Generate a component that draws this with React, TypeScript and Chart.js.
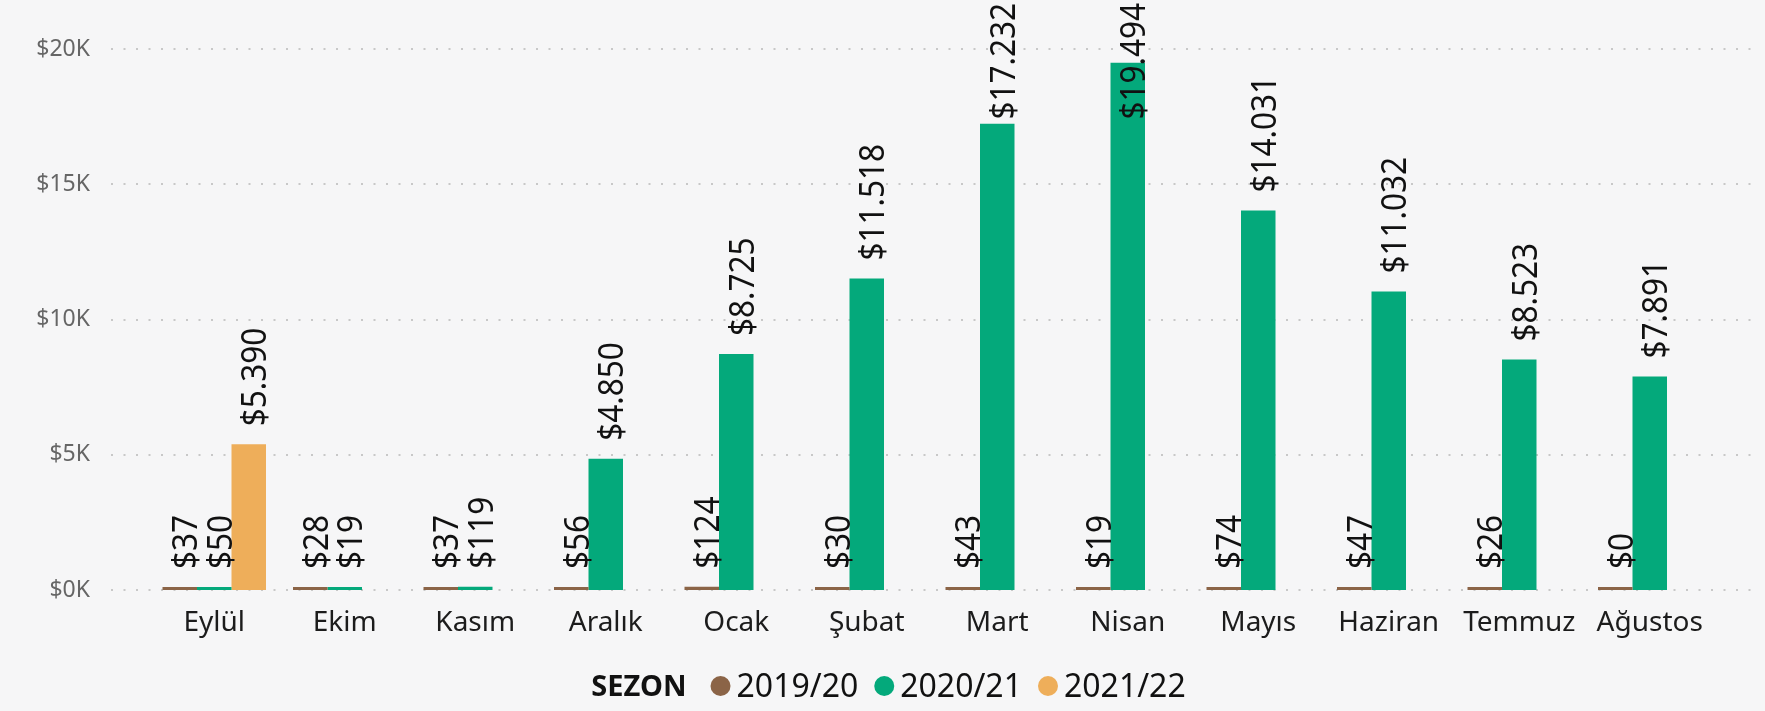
import React, { useEffect, useRef } from "react";
import { Chart, registerables } from "chart.js";

Chart.register(...registerables);

const months = ["Eylül", "Ekim", "Kasım", "Aralık", "Ocak", "Şubat", "Mart", "Nisan", "Mayıs", "Haziran", "Temmuz", "Ağustos"];
const season1920 = [37, 28, 37, 56, 124, 30, 43, 19, 74, 47, 26, 0];
const season2021 = [50, 19, 119, 4850, 8725, 11518, 17232, 19494, 14031, 11032, 8523, 7891];
const season2122 = [5390, null, null, null, null, null, null, null, null, null, null, null];
const seasonNames = ["2019/20", "2020/21", "2021/22"];
const seasonColors = ["#8B6447", "#04A97B", "#EEAE5A"];
const yTickValues = [0, 5000, 10000, 15000, 20000];
const yTickLabels = ["$0K", "$5K", "$10K", "$15K", "$20K"];
const legendTitle = "SEZON";

const FONT = '"Noto Sans", "Open Sans", sans-serif';

function formatValue(v: number): string {
  return "$" + String(v).replace(/\B(?=(\d{3})+(?!\d))/g, ".");
}

const dottedGrid = {
  id: "dottedGrid",
  beforeDatasetsDraw(chart: any) {
    const { ctx, chartArea, scales } = chart;
    const y = scales.y;
    ctx.save();
    ctx.strokeStyle = "#c8c8c8";
    ctx.lineWidth = 2;
    ctx.setLineDash([2, 10.5]);
    for (const v of yTickValues) {
      const py = Math.round(y.getPixelForValue(v));
      ctx.beginPath();
      ctx.moveTo(chartArea.left - 38, py);
      ctx.lineTo(chartArea.right + 40, py);
      ctx.stroke();
    }
    ctx.restore();
  },
};

const LABEL_SIZE = 35;
const LABEL_SCALE = 0.9;
const LABEL_GAP = 18;
const LABEL_TOP_MIN = 3;

const barLabels = {
  id: "barLabels",
  afterDatasetsDraw(chart: any) {
    const { ctx } = chart;
    ctx.save();
    ctx.font = `${LABEL_SIZE}px ${FONT}`;
    ctx.fillStyle = "#111111";
    ctx.textAlign = "left";
    ctx.textBaseline = "alphabetic";
    const cap = LABEL_SIZE * 0.714;
    chart.data.datasets.forEach((ds: any, di: number) => {
      const meta = chart.getDatasetMeta(di);
      meta.data.forEach((el: any, i: number) => {
        const v = ds.data[i];
        if (v === null || v === undefined) return;
        const text = formatValue(v);
        const w = ctx.measureText(text).width * LABEL_SCALE;
        let bottom = el.y - LABEL_GAP;
        if (bottom - w < LABEL_TOP_MIN) bottom = LABEL_TOP_MIN + w;
        ctx.save();
        ctx.translate(el.x + cap / 2 + 5, bottom);
        ctx.rotate(-Math.PI / 2);
        ctx.scale(LABEL_SCALE, 1);
        ctx.fillText(text, 0, 0);
        ctx.restore();
      });
    });
    ctx.restore();
  },
};

const customLegend = {
  id: "customLegend",
  afterDraw(chart: any) {
    const { ctx } = chart;
    const cy = 686;
    const titleSize = 29;
    const itemSize = 32;
    const r = 10;
    ctx.save();
    ctx.font = `bold ${titleSize}px ${FONT}`;
    const titleW = ctx.measureText(legendTitle).width;
    ctx.font = `${itemSize}px ${FONT}`;
    const widths = seasonNames.map((n) => ctx.measureText(n).width);
    let total = titleW + 24;
    widths.forEach((w, i) => {
      total += 2 * r + 6 + w + (i < widths.length - 1 ? 16 : 0);
    });
    let x = chart.width / 2 + 6 - total / 2;
    ctx.textBaseline = "alphabetic";
    ctx.textAlign = "left";
    ctx.fillStyle = "#111";
    ctx.font = `bold ${titleSize}px ${FONT}`;
    ctx.fillText(legendTitle, x, cy + (titleSize * 0.714) / 2);
    x += titleW + 24;
    ctx.font = `${itemSize}px ${FONT}`;
    seasonNames.forEach((n, i) => {
      ctx.fillStyle = seasonColors[i];
      ctx.beginPath();
      ctx.arc(x + r, cy, r, 0, Math.PI * 2);
      ctx.fill();
      x += 2 * r + 6;
      ctx.fillStyle = "#111";
      ctx.fillText(n, x, cy + (itemSize * 0.714) / 2);
      x += widths[i] + 16;
    });
    ctx.restore();
  },
};

export default function App() {
  const canvasRef = useRef<HTMLCanvasElement | null>(null);

  useEffect(() => {
    document.body.style.margin = "0";
    document.body.style.background = "#f6f6f7";
    const canvas = canvasRef.current;
    if (!canvas) return;
    Chart.defaults.font.family = FONT;
    const chart = new Chart(canvas, {
      type: "bar",
      data: {
        labels: months,
        datasets: [
          { label: seasonNames[0], data: season1920, backgroundColor: seasonColors[0] },
          { label: seasonNames[1], data: season2021, backgroundColor: seasonColors[1] },
          { label: seasonNames[2], data: season2122 as any, backgroundColor: seasonColors[2] },
        ],
      },
      options: {
        responsive: false,
        animation: false,
        layout: { padding: { top: 49, right: 50, left: 0, bottom: 0 } },
        datasets: {
          bar: {
            categoryPercentage: 0.793,
            barPercentage: 1,
            minBarLength: 3,
            borderWidth: 0,
          },
        },
        plugins: {
          legend: { display: false },
          tooltip: { enabled: false },
        },
        scales: {
          x: {
            offset: true,
            grid: { display: false, drawTicks: false },
            border: { display: false },
            ticks: {
              color: "#1c1c1c",
              font: { size: 28, family: FONT },
              padding: 16,
              maxRotation: 0,
              autoSkip: false,
            },
            afterFit: (scale: any) => {
              scale.height = 121;
            },
          },
          y: {
            min: 0,
            max: 20000,
            grid: { display: false, drawTicks: false },
            border: { display: false },
            afterBuildTicks: (scale: any) => {
              scale.ticks = yTickValues.map((v) => ({ value: v }));
            },
            ticks: {
              color: "#666666",
              font: { size: 23, family: FONT },
              padding: 59,
              callback: (_v: any, i: number) => yTickLabels[i],
            },
            afterFit: (scale: any) => {
              scale.width = 149;
              scale.paddingTop = 0;
              scale.paddingBottom = 0;
            },
          },
        },
      },
      plugins: [dottedGrid, barLabels, customLegend],
    });
    return () => chart.destroy();
  }, []);

  return (
    <div style={{ width: 1765, height: 711, background: "#f6f6f7" }}>
      <canvas ref={canvasRef} width={1765} height={711} />
    </div>
  );
}
